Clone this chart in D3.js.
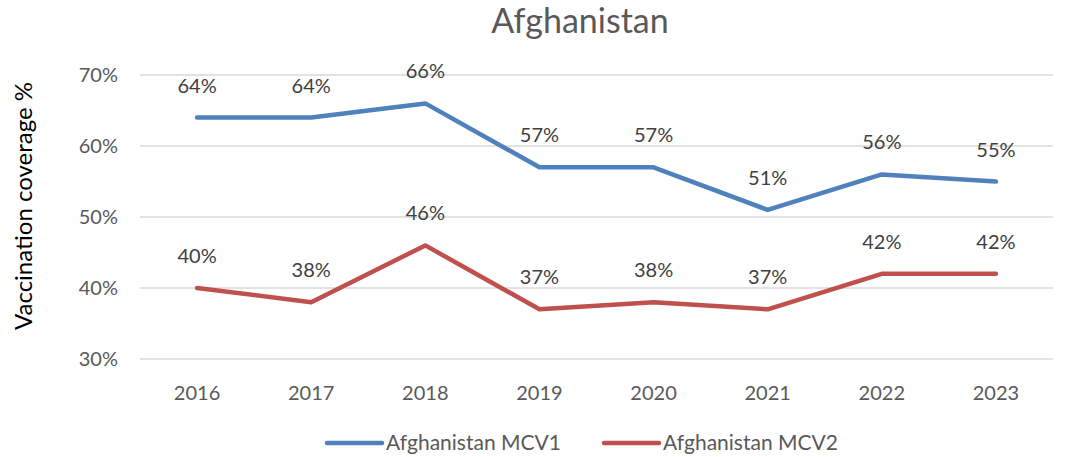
<!DOCTYPE html>
<html>
<head>
<meta charset="utf-8">
<script src="https://cdn.jsdelivr.net/npm/d3@7"></script>
<style>
  body { margin: 0; background: #fff; }
  text { font-family: Lato, "Open Sans", sans-serif; }
</style>
</head>
<body>
<div id="chart"></div>
<script>
// chart data
var years = ["2016", "2017", "2018", "2019", "2020", "2021", "2022", "2023"];
var mcv1 = [64, 64, 66, 57, 57, 51, 56, 55];
var mcv2 = [40, 38, 46, 37, 38, 37, 42, 42];
var yTicks = [30, 40, 50, 60, 70];
var seriesNames = ["Afghanistan MCV1", "Afghanistan MCV2"];
var seriesColors = ["#4F81BD", "#C0504D"];

var W = 1071, H = 457;
var margin = { top: 75, right: 18, bottom: 98, left: 140 };
var width = W - margin.left - margin.right,
    height = H - margin.top - margin.bottom;

var svg = d3.select("#chart").append("svg")
    .attr("width", W)
    .attr("height", H);

var g = svg.append("g")
    .attr("transform", "translate(" + margin.left + "," + margin.top + ")");

var x = d3.scalePoint()
    .domain(years)
    .range([0, width])
    .padding(0.5);

var y = d3.scaleLinear()
    .domain([30, 70])
    .range([height, 0]);

// title
svg.append("text")
    .attr("x", 580)
    .attr("y", 33)
    .attr("text-anchor", "middle")
    .attr("fill", "#595959")
    .style("font-size", "34px")
    .text("Afghanistan");

// y axis title
svg.append("text")
    .attr("transform", "translate(32," + (margin.top + 131) + ") rotate(-90)")
    .attr("text-anchor", "middle")
    .attr("fill", "#000")
    .style("font-size", "24px")
    .text("Vaccination coverage %");

// gridlines
g.selectAll(".grid").data(yTicks).enter()
    .append("line")
    .attr("class", "grid")
    .attr("x1", 0)
    .attr("x2", width)
    .attr("y1", function(d) { return y(d); })
    .attr("y2", function(d) { return y(d); })
    .attr("stroke", "#d9d9d9")
    .attr("stroke-width", 1.5);

// y tick labels
g.selectAll(".ytick").data(yTicks).enter()
    .append("text")
    .attr("class", "ytick")
    .attr("x", -22)
    .attr("y", function(d) { return y(d); })
    .attr("dy", "0.35em")
    .attr("text-anchor", "end")
    .attr("fill", "#595959")
    .style("font-size", "20px")
    .text(function(d) { return d + "%"; });

// x tick labels
g.selectAll(".xtick").data(years).enter()
    .append("text")
    .attr("class", "xtick")
    .attr("x", function(d) { return x(d); })
    .attr("y", height + 41)
    .attr("text-anchor", "middle")
    .attr("fill", "#595959")
    .style("font-size", "20px")
    .text(function(d) { return d; });

var line = d3.line()
    .x(function(d, i) { return x(years[i]); })
    .y(function(d) { return y(d); });

[mcv1, mcv2].forEach(function(vals, s) {
  g.append("path")
      .datum(vals)
      .attr("d", line)
      .attr("fill", "none")
      .attr("stroke", seriesColors[s])
      .attr("stroke-width", 4.5)
      .attr("stroke-linejoin", "round")
      .attr("stroke-linecap", "round");

  g.selectAll(".lab" + s).data(vals).enter()
      .append("text")
      .attr("class", "lab" + s)
      .attr("x", function(d, i) { return x(years[i]); })
      .attr("y", function(d) { return y(d) - 32; })
      .attr("dy", "0.35em")
      .attr("text-anchor", "middle")
      .attr("fill", "#404040")
      .style("font-size", "20px")
      .text(function(d) { return d + "%"; });
});

// legend
var legendX = [327, 604];
var legend = svg.selectAll(".legend").data(seriesNames).enter()
    .append("g")
    .attr("class", "legend")
    .attr("transform", function(d, i) { return "translate(" + legendX[i] + ",443)"; });

legend.append("line")
    .attr("x1", 0).attr("x2", 55)
    .attr("stroke", function(d, i) { return seriesColors[i]; })
    .attr("stroke-width", 4.5)
    .attr("stroke-linecap", "round");

legend.append("text")
    .attr("x", 59)
    .attr("dy", "0.35em")
    .attr("fill", "#595959")
    .style("font-size", "21px")
    .text(function(d) { return d; });
</script>
</body>
</html>
